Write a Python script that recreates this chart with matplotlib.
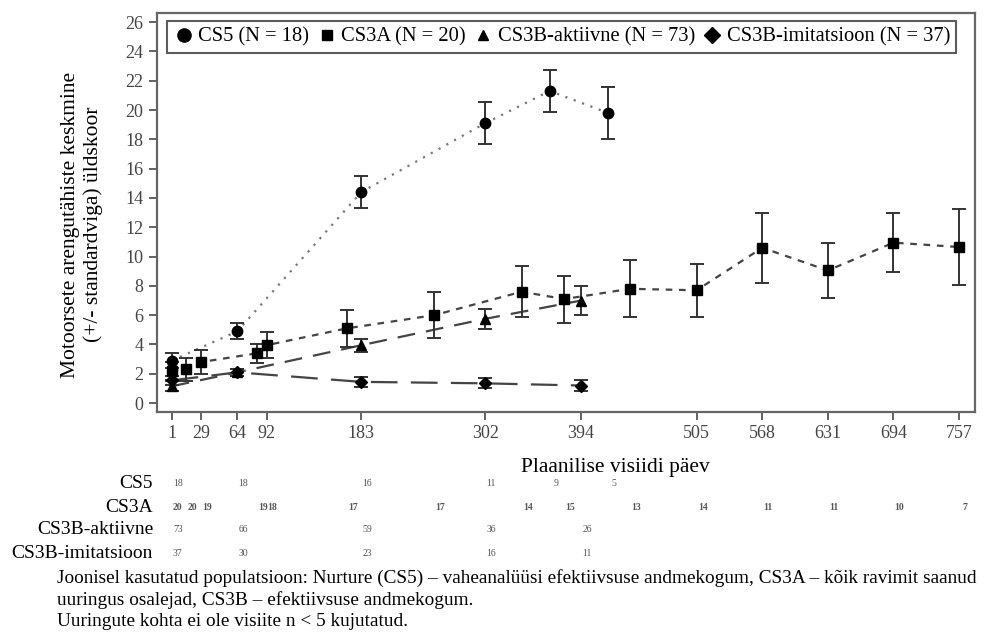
import matplotlib.pyplot as plt
import matplotlib.transforms as mtransforms
from matplotlib.lines import Line2D

plt.rcParams['font.family'] = ['Liberation Serif', 'DejaVu Serif']

# andmed (loetud jooniselt)
cs5_day = [1, 64, 183, 302, 364, 420]
cs5_mean = [2.9, 4.9, 14.4, 19.1, 21.3, 19.8]
cs5_se = [0.5, 0.55, 1.1, 1.45, 1.45, 1.8]
cs5_n = [18, 18, 16, 11, 9, 5]

cs3a_day = [1, 15, 29, 83, 92, 169, 253, 337, 378, 441, 505, 568, 631, 694, 757]
cs3a_mean = [2.2, 2.3, 2.8, 3.4, 3.95, 5.1, 6.0, 7.6, 7.1, 7.8, 7.7, 10.6, 9.05, 10.95, 10.65]
cs3a_se = [0.6, 0.8, 0.8, 0.65, 0.9, 1.25, 1.55, 1.75, 1.6, 1.95, 1.8, 2.4, 1.85, 2.0, 2.6]
cs3a_n = [20, 20, 19, 19, 18, 17, 17, 14, 15, 13, 14, 11, 11, 10, 7]

akt_day = [1, 64, 183, 302, 394]
akt_mean = [1.15, 2.1, 3.95, 5.75, 7.0]
akt_se = [0.35, 0.25, 0.45, 0.7, 1.0]
akt_n = [73, 66, 59, 36, 26]

imi_day = [1, 64, 183, 302, 394]
imi_mean = [1.55, 2.1, 1.45, 1.35, 1.2]
imi_se = [0.3, 0.25, 0.35, 0.35, 0.4]
imi_n = [37, 30, 23, 16, 11]

xticks = [1, 29, 64, 92, 183, 302, 394, 505, 568, 631, 694, 757]
yticks = list(range(0, 27, 2))

fig = plt.figure(figsize=(9.92, 6.32), dpi=100)
ax = fig.add_axes([0.158, 0.348, 0.825, 0.631])

ecol = '#333333'
series = [
    (cs5_day, cs5_mean, cs5_se, 'o', 7.5, (0, (1, 3)), '#777777', 'CS5 (N = 18)'),
    (cs3a_day, cs3a_mean, cs3a_se, 's', 6.5, (0, (3, 3)), '#444444', 'CS3A (N = 20)'),
    (akt_day, akt_mean, akt_se, '^', 6.5, (0, (8, 5)), '#444444', 'CS3B-aktiivne (N = 73)'),
    (imi_day, imi_mean, imi_se, 'D', 6, (0, (12, 6)), '#444444', 'CS3B-imitatsioon (N = 37)'),
]
handles = []
for d, m, se, mk, ms, ls, lc, lab in series:
    ax.plot(d, m, linestyle=ls, color=lc, linewidth=1.6, zorder=2)
    ax.errorbar(d, m, yerr=se, fmt=mk, color='black', markersize=ms,
                ecolor=ecol, elinewidth=1.4, capsize=5, capthick=1.4, zorder=3)
    handles.append(Line2D([], [], linestyle='none', marker=mk, color='black',
                          markersize=ms + 2 if mk in 'oD' else ms, label=lab))

ax.set_xlim(-13.4, 772.4)
ax.set_ylim(-0.61, 26.6)
ax.set_xticks(xticks)
ax.set_yticks(yticks)
ax.tick_params(direction='out', length=6, width=1.3, color='#555555',
               labelsize=13, labelcolor='#444444')
for sp in ax.spines.values():
    sp.set_color('#666666')
    sp.set_linewidth(1.6)

ax.set_xlabel('Plaanilise visiidi päev', fontsize=15.5)
ax.xaxis.set_label_coords(0.56, -0.115)
ax.set_ylabel('Motoorsete arengutähiste keskmine\n(+/- standardviga) üldskoor',
              fontsize=15.5, linespacing=1.2)
ax.yaxis.set_label_coords(-0.066, 0.47)

leg = ax.legend(handles=handles, loc='upper center', bbox_to_anchor=(0.495, 0.99),
                ncol=4, fontsize=14.8, frameon=True, fancybox=False,
                handletextpad=0.2, columnspacing=0.35, handlelength=1.0,
                borderpad=0.3, borderaxespad=0.2)
leg.get_frame().set_edgecolor('#333333')
leg.get_frame().set_linewidth(1.5)

# patsientide arv tabel
trans = mtransforms.blended_transform_factory(ax.transData, fig.transFigure)
offs = mtransforms.ScaledTranslation(6 / 100, 0, fig.dpi_scale_trans)
rows = [('CS5', cs5_day, cs5_n), ('CS3A', cs3a_day, cs3a_n),
        ('CS3B-aktiivne', akt_day, akt_n), ('CS3B-imitatsioon', imi_day, imi_n)]
row_y = [1 - 484 / 632, 1 - 507 / 632, 1 - 530 / 632, 1 - 553 / 632]
for (name, d, n), yy in zip(rows, row_y):
    fig.text(153 / 992, yy, name, ha='right', va='center', fontsize=14)
    for di, ni in zip(d, n):
        ax.text(di, yy, str(ni), transform=trans + offs, ha='center', va='center',
                fontsize=7, color='#555555', fontweight='bold' if name == 'CS3A' else 'normal')

foot = ('Joonisel kasutatud populatsioon: Nurture (CS5) – vaheanalüüsi efektiivsuse andmekogum, CS3A – kõik ravimit saanud\n'
        'uuringus osalejad, CS3B – efektiivsuse andmekogum.\n'
        'Uuringute kohta ei ole visiite n < 5 kujutatud.')
fig.text(57 / 992, 1 - 569 / 632, foot, ha='left', va='top', fontsize=13.9, linespacing=1.3)

fig.savefig('out.png', dpi=100)
